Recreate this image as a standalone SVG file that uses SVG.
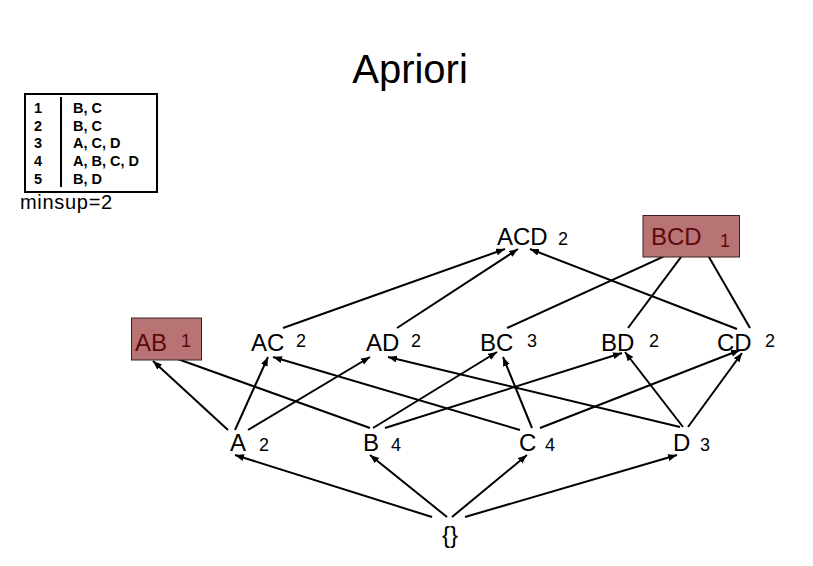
<svg xmlns="http://www.w3.org/2000/svg" width="813" height="566" viewBox="0 0 813 566">
<defs>
<marker id="ah" markerUnits="userSpaceOnUse" markerWidth="10" markerHeight="8" refX="9" refY="3.5" orient="auto">
<path d="M0,0 L9,3.5 L0,7 z" fill="#000"/>
</marker>
</defs>
<style>
text{font-family:"Liberation Sans",Arial,sans-serif;fill:#000}
.lbl{font-size:24px}
.num{font-size:18px}
.tbl{font-size:14.5px;font-weight:bold}
.hl{fill:#b87474;stroke:#3a2020;stroke-width:1}
.hlt{fill:#5c0a0a}
#edges line{stroke:#000;stroke-width:2;marker-end:url(#ah)}
</style>
<rect width="813" height="566" fill="#fff"/>
<text id="title" x="410" y="83" font-size="40" text-anchor="middle">Apriori</text>
<g id="table">
<rect x="25" y="94" width="132" height="98" fill="none" stroke="#000" stroke-width="2"/>
<line x1="61" y1="97" x2="61" y2="187" stroke="#000" stroke-width="2"/>
<text class="tbl" x="34" y="112.7">1</text>
<text class="tbl" x="34" y="130.5">2</text>
<text class="tbl" x="34" y="148.3">3</text>
<text class="tbl" x="34" y="166">4</text>
<text class="tbl" x="34" y="184">5</text>
<text class="tbl" x="73" y="112.7">B, C</text>
<text class="tbl" x="73" y="130.5">B, C</text>
<text class="tbl" x="73" y="148.3">A, C, D</text>
<text class="tbl" x="73" y="166">A, B, C, D</text>
<text class="tbl" x="73" y="184">B, D</text>
</g>
<text id="minsup" x="20" y="209" font-size="20" letter-spacing="0.7">minsup=2</text>
<g id="edges">
<line x1="432" y1="517" x2="235" y2="455"/>
<line x1="447" y1="517" x2="370" y2="455"/>
<line x1="452" y1="517" x2="527" y2="455"/>
<line x1="465" y1="517" x2="677" y2="455"/>
<line x1="228" y1="430" x2="153" y2="361"/>
<line x1="235" y1="430" x2="268" y2="357"/>
<line x1="248" y1="430" x2="370" y2="357"/>
<line x1="370" y1="428" x2="161" y2="353"/>
<line x1="373" y1="428" x2="497" y2="352"/>
<line x1="385" y1="428" x2="622" y2="353"/>
<line x1="520" y1="430" x2="273" y2="357"/>
<line x1="532" y1="428" x2="503" y2="357"/>
<line x1="540" y1="428" x2="740" y2="350"/>
<line x1="680" y1="427" x2="388" y2="357"/>
<line x1="683" y1="427" x2="625" y2="352"/>
<line x1="688" y1="427" x2="742" y2="353"/>
<line x1="283" y1="328" x2="505" y2="249"/>
<line x1="397" y1="328" x2="518" y2="249"/>
<line x1="737" y1="329" x2="530" y2="249"/>
<line x1="507" y1="328" x2="678" y2="250"/>
<line x1="628" y1="328" x2="690" y2="245"/>
<line x1="750" y1="328" x2="702" y2="245"/>
</g>
<g id="n-empty"><text class="lbl" x="442" y="543">{}</text></g>
<g id="n-A"><text class="lbl" x="230" y="451">A</text><text class="num" x="259" y="450.5">2</text></g>
<g id="n-B"><text class="lbl" x="363" y="451">B</text><text class="num" x="391" y="450.5">4</text></g>
<g id="n-C"><text class="lbl" x="519" y="451">C</text><text class="num" x="545" y="450.5">4</text></g>
<g id="n-D"><text class="lbl" x="673" y="451">D</text><text class="num" x="700" y="450.5">3</text></g>
<g id="n-AB"><rect class="hl" x="131.5" y="318" width="70" height="42"/><text class="lbl hlt" x="135" y="351">AB</text><text class="num hlt" x="181" y="347">1</text></g>
<g id="n-AC"><text class="lbl" x="251" y="351">AC</text><text class="num" x="296" y="347">2</text></g>
<g id="n-AD"><text class="lbl" x="366" y="351">AD</text><text class="num" x="411" y="347">2</text></g>
<g id="n-BC"><text class="lbl" x="480" y="351">BC</text><text class="num" x="527" y="347">3</text></g>
<g id="n-BD"><text class="lbl" x="601" y="351">BD</text><text class="num" x="649" y="347">2</text></g>
<g id="n-CD"><text class="lbl" x="717" y="351">CD</text><text class="num" x="765" y="347">2</text></g>
<g id="n-ACD"><text class="lbl" x="497" y="245">ACD</text><text class="num" x="558" y="245">2</text></g>
<g id="n-BCD"><rect class="hl" x="643" y="215.5" width="96.5" height="41.5"/><text class="lbl hlt" x="651" y="245">BCD</text><text class="num hlt" x="720" y="247">1</text></g>
</svg>
